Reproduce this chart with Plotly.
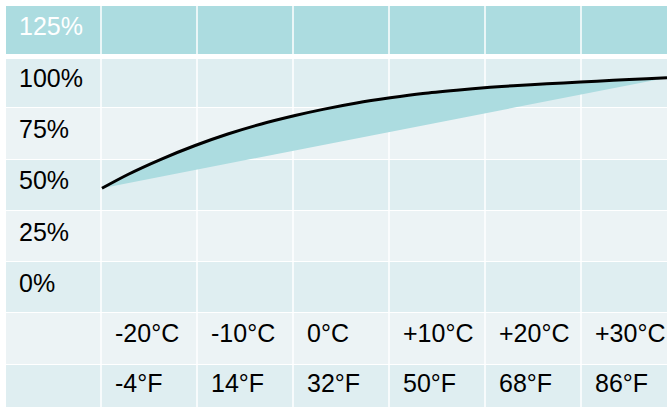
import plotly.graph_objects as go

# ---- data ----
temp_c = [-19.9, -17.2, -13.7, -10.2, -6.8, -3.3, 0.2, 3.1, 6.6, 10.1, 13.5, 17.0,
          20.5, 22.9, 26.4, 29.9, 33.3, 36.8, 38.9]
capacity = [46.1, 52.8, 60.3, 66.9, 72.5, 77.4, 81.5, 84.5, 87.6, 90.1, 92.2, 93.8,
            95.2, 96.0, 96.9, 97.8, 98.6, 99.4, 99.9]
pct_vals = [125, 100, 75, 50, 25, 0]
pct_labels = ["125%", "100%", "75%", "50%", "25%", "0%"]
col_temps = [-20, -10, 0, 10, 20, 30]
c_labels = ["-20°C", "-10°C", "0°C", "+10°C", "+20°C", "+30°C"]
f_labels = ["-4°F", "14°F", "32°F", "50°F", "68°F", "86°F"]

W, H = 667, 407
HEADER = "#acdce0"
DARK = "#dfeef1"
LIGHT = "#ecf3f5"
FONT = "Liberation Sans, Arial, sans-serif"
FS = 25

def px(x):
    return x / W

def py(y):
    return 1 - y / H

fig = go.Figure()

# chord (lower edge of the shaded region)
fig.add_trace(go.Scatter(x=[temp_c[0], temp_c[-1]], y=[capacity[0], capacity[-1]],
                         mode="lines", line=dict(width=0, color=HEADER),
                         hoverinfo="skip", showlegend=False))
# capacity curve
fig.add_trace(go.Scatter(x=temp_c, y=capacity, mode="lines",
                         line=dict(color="black", width=3, shape="spline", smoothing=0.8),
                         fill="tonexty", fillcolor=HEADER, showlegend=False))

shapes = []
rows = [(6, 54, HEADER), (59, 107, DARK), (108, 159, LIGHT), (160, 210, DARK),
        (211, 261, LIGHT), (262, 312, DARK), (313, 364, LIGHT), (365, 410, DARK)]
for top, bot, col in rows:
    shapes.append(dict(type="rect", xref="paper", yref="paper", layer="below",
                       x0=px(6), x1=1.01, y0=py(bot), y1=py(top),
                       fillcolor=col, line=dict(width=0)))
for xv in [101, 197, 293, 389, 485, 581]:
    shapes.append(dict(type="line", xref="paper", yref="paper", layer="below",
                       x0=px(xv), x1=px(xv), y0=py(410), y1=py(6),
                       line=dict(color="rgba(255,255,255,0.75)", width=2)))

annotations = []
for v, t in zip(pct_vals, pct_labels):
    annotations.append(dict(x=px(17), xref="paper", y=v, yref="y", text=t,
                            showarrow=False, xanchor="left", yanchor="middle",
                            font=dict(family=FONT, size=FS,
                                      color="white" if v == 125 else "#000")))
for tc, lc, lf in zip(col_temps, c_labels, f_labels):
    annotations.append(dict(x=tc, xref="x", y=py(333), yref="paper", text=lc,
                            showarrow=False, xanchor="left", yanchor="middle", xshift=12,
                            font=dict(family=FONT, size=FS, color="#000")))
    annotations.append(dict(x=tc, xref="x", y=py(383), yref="paper", text=lf,
                            showarrow=False, xanchor="left", yanchor="middle", xshift=12,
                            font=dict(family=FONT, size=FS, color="#000")))

fig.update_layout(
    width=W, height=H,
    margin=dict(l=0, r=0, t=0, b=0),
    paper_bgcolor="white", plot_bgcolor="rgba(0,0,0,0)",
    xaxis=dict(range=[-30.51, 38.90], visible=False, fixedrange=True),
    yaxis=dict(range=[-60.34, 137.71], visible=False, fixedrange=True),
    shapes=shapes, annotations=annotations, showlegend=False,
)

fig.write_html("out.html", config={"displayModeBar": False},
               post_script="document.body.style.margin='0';document.body.style.overflow='hidden';")
